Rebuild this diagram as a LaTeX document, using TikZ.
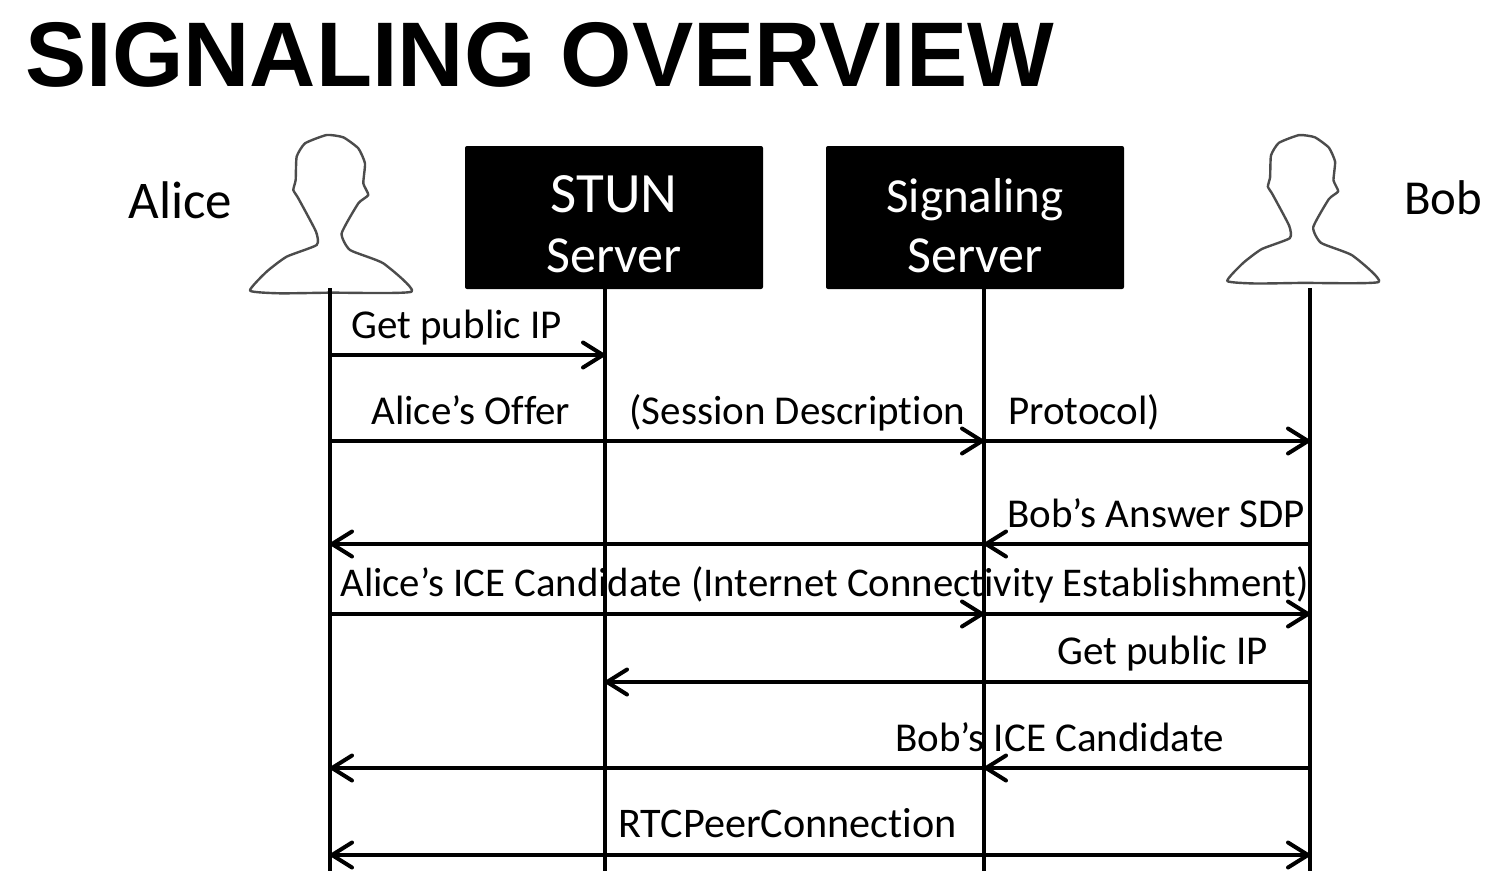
\documentclass[tikz,border=0pt]{standalone}
\usepackage{fontspec}
\setmainfont[Ligatures=CommonOff]{Carlito}
\newfontfamily\titlefont{Liberation Sans}
\usetikzlibrary{arrows.meta}
\tikzset{
  x=0.5pt,y=-0.5pt,
  barb/.tip={Straight Barb[length=10pt,width=12.5pt,line width=2pt,round]},
  lifeline/.style={line width=2.3pt},
  msg/.style={line width=2pt,-barb},
  dblmsg/.style={line width=2pt,barb-barb},
  serverbox/.style={fill=black,text=white,rounded corners=1pt,minimum width=149pt,minimum height=71.5pt,align=center,inner sep=0pt,font=\fontsize{26}{30}\selectfont},
  msglabel/.style={anchor=base west,inner sep=0pt,font=\fontsize{20.5}{24}\selectfont},
  person/.pic={
    \draw[black!70,line width=1.2pt,line join=round] plot[smooth cycle,tension=0.3] coordinates {
      (290,45) (225,70) (200,110) (197,180) (190,210) (205,235) (258,335) (260,375)
      (170,410) (110,455) (60,512) (150,520) (300,518) (545,515) (460,430) (360,390)
      (335,340) (385,250) (415,225) (400,190) (405,130) (385,85) (340,52)};
  }
}
\newcommand{\firstline}[2]{\fontsize{#1}{30}\selectfont\rule{0pt}{25.5pt}#2}
\begin{document}
\begin{tikzpicture}
\useasboundingbox (0,0) rectangle (1497,873);
% title
\node[anchor=base west,inner sep=0pt,font=\fontsize{45.9}{50}\selectfont\titlefont\bfseries] (title) at (25,86) {SIGNALING OVERVIEW};
% people
\pic[shift={(230,120)},scale=0.3333] (alicepic) {person};
\pic[shift={(1208.5,121)},scale=0.3125] (bobpic) {person};
\node[anchor=base west,inner sep=0pt,font=\fontsize{26.5}{30}\selectfont] (alice) at (128,218) {Alice};
\node[anchor=base west,inner sep=0pt,font=\fontsize{24.4}{30}\selectfont] (bob) at (1404,214) {Bob};
% servers
\node[serverbox] (stun) at (614,217.5) {\firstline{28.5}{STUN}\\Server};
\node[serverbox] (signal) at (975,217.5) {\firstline{24.5}{Signaling}\\Server};
% labels go under the lines
\node[msglabel] (l1) at (351,338) {Get public IP};
\node[msglabel] (l2) at (371,424) {Alice’s Offer};
\node[msglabel] (l3) at (629,424) {(Session Description};
\node[msglabel] (l4) at (1008,424) {Protocol)};
\node[msglabel] (l5) at (1007,527) {Bob’s Answer SDP};
\node[msglabel,font=\fontsize{20.4}{24}\selectfont] (l6) at (340,596) {Alice’s ICE Candidate (Internet Connectivity Establishment)};
\node[msglabel] (l7) at (1057,664) {Get public IP};
\node[msglabel] (l8) at (895,751) {Bob’s ICE Candidate};
\node[msglabel,font=\fontsize{21.1}{24}\selectfont] (l9) at (618,837) {RTCPeerConnection};
% lifelines
\coordinate (atop) at (330,288);
\coordinate (aend) at (330,871);
\coordinate (btop) at (1310,288);
\coordinate (bend) at (1310,871);
\coordinate (send) at (605,871);
\coordinate (gend) at (984,871);
\coordinate (stop) at (605,289);
\coordinate (gtop) at (984,289);
\draw[lifeline] (atop) -- (aend);
\draw[lifeline] (stop) -- (send);
\draw[lifeline] (gtop) -- (gend);
\draw[lifeline] (btop) -- (bend);
% messages
\coordinate (a1) at (330,355);
\coordinate (s1) at (605,355);
\draw[msg] (a1) -- (s1);
\coordinate (a2) at (330,441);
\coordinate (g2) at (984,441);
\coordinate (b2) at (1310,441);
\draw[msg] (a2) -- (g2);
\draw[msg] (g2) -- (b2);
\coordinate (a3) at (330,544);
\coordinate (g3) at (984,544);
\coordinate (b3) at (1310,544);
\draw[msg] (b3) -- (g3);
\draw[msg] (g3) -- (a3);
\coordinate (a4) at (330,614);
\coordinate (g4) at (984,614);
\coordinate (b4) at (1310,614);
\draw[msg] (a4) -- (g4);
\draw[msg] (g4) -- (b4);
\coordinate (s5) at (605,682);
\coordinate (b5) at (1310,682);
\draw[msg] (b5) -- (s5);
\coordinate (a6) at (330,768);
\coordinate (g6) at (984,768);
\coordinate (b6) at (1310,768);
\draw[msg] (b6) -- (g6);
\draw[msg] (g6) -- (a6);
\coordinate (a7) at (330,855);
\coordinate (b7) at (1310,855);
\draw[dblmsg] (a7) -- (b7);
\end{tikzpicture}
\end{document}
